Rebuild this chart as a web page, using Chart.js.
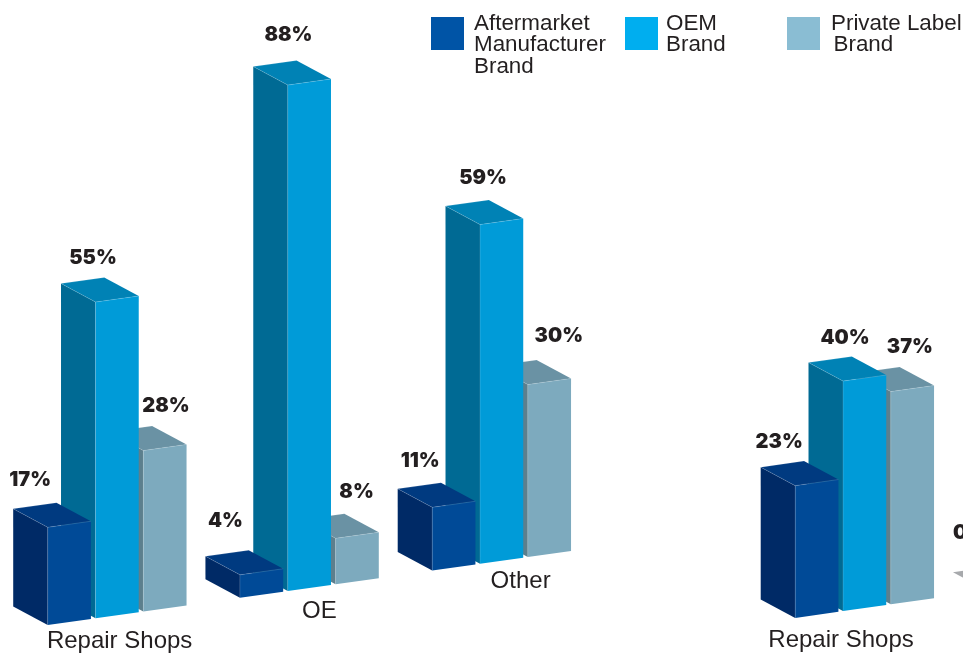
<!DOCTYPE html>
<html>
<head>
<meta charset="utf-8">
<title>Brand share by outlet</title>
<script src="https://cdn.jsdelivr.net/npm/chart.js@4/dist/chart.umd.js"></script>
<style>
html,body{margin:0;padding:0;background:#fff;width:963px;height:656px;overflow:hidden}
#stage{position:relative;width:963px;height:656px;overflow:hidden}
#left{position:absolute;left:0;top:0}
#rightClip{position:absolute;left:700px;top:0;width:263px;height:656px;overflow:hidden}
#right{position:absolute;left:0;top:0}
</style>
</head>
<body>
<div id="stage">
<canvas id="left" width="963" height="656"></canvas>
<div id="rightClip"><canvas id="right" width="500" height="656"></canvas></div>
</div>
<script>
// ---- data ----
const seriesNames = ['Aftermarket Manufacturer Brand', 'OEM Brand', 'Private Label Brand'];
const categoriesLeft = ['Repair Shops', 'OE', 'Other'];
const aftermarketLeft = [17, 4, 11];
const oemLeft = [55, 88, 59];
const privateLeft = [28, 8, 30];
const categoriesRight = ['Repair Shops', ''];
const aftermarketRight = [23, 0];
const oemRight = [40, null];
const privateRight = [37, null];

// ---- legend text and style ----
const legendLines = [['Aftermarket', 'Manufacturer', 'Brand'], ['OEM', 'Brand'], ['Private Label', 'Brand']];
const legendColors = ['#0054a6', '#00aeef', '#8abdd3'];
const legendBoxX = [431, 625, 787];
const legendTextX = [[474, 474, 474], [666, 666], [831, 833.5]];
const frontColors = ['#004a97', '#009bd8', '#7daabe'];
const sideColors = ['#002a66', '#006a94', '#5c7f8d'];
const topColors = ['#003a80', '#0082b5', '#6a92a4'];
const zeroTopColor = '#a7a9ac';
const inkColor = '#231f20';

// ---- 3D projection ----
const depthX = -34.5, depthY = -18.5, slope = 0.1417;

// label nudges relative to the front-left top corner of each bar
const valueNudgeLeft = [
  [[-17.5, -47], [-14.5, -54], [-12, -46]],
  [[-2.5, -43.6], [0.7, -50.5], [3, -47]],
  [[22.7, -45], [21, -46], [31, -49]]
];
const valueNudgeRight = [
  [[-16, -43.7], [-17, -58]],
  [[2, -43], [0, 0]],
  [[19, -45], [0, 0]]
];

function poly(ctx, pts, fill) {
  ctx.beginPath();
  pts.forEach((p, i) => i ? ctx.lineTo(p[0], p[1]) : ctx.moveTo(p[0], p[1]));
  ctx.closePath();
  ctx.fillStyle = fill;
  ctx.fill();
}
function seg(ctx, a, b) {
  ctx.beginPath();
  ctx.moveTo(a[0], a[1]);
  ctx.lineTo(b[0], b[1]);
  ctx.stroke();
}

const bars3d = {
  id: 'bars3d',
  beforeDatasetDraw(chart, args, opts) {
    const ctx = chart.ctx, d = args.index;
    args.meta.data.forEach((el, i) => {
      if (chart.data.datasets[d].data[i] === null) return;
      const p = el.getProps(['x', 'y', 'base', 'width'], true);
      const xl = p.x - p.width / 2, xr = p.x + p.width / 2;
      const sk = x => -slope * (x - opts.refX);
      const fl = [xl, p.y + sk(xl)], fr = [xr, p.y + sk(xr)];
      const bl = [xl, p.base + sk(xl)], br = [xr, p.base + sk(xr)];
      const back = q => [q[0] + depthX, q[1] + depthY];
      const zero = p.y === p.base;
      ctx.save();
      if (zero) {
        poly(ctx, [fl, fr, back(fr), back(fl)], zeroTopColor);
      } else {
        poly(ctx, [bl, fl, back(fl), back(bl)], sideColors[d]);
        poly(ctx, [fl, fr, back(fr), back(fl)], topColors[d]);
        poly(ctx, [bl, br, fr, fl], frontColors[d]);
        ctx.strokeStyle = 'rgba(255,255,255,0.2)';
        ctx.lineWidth = 0.7;
        seg(ctx, fl, bl);
        seg(ctx, fl, fr);
        seg(ctx, fl, back(fl));
        seg(ctx, back(fl), back(fr));
      }
      ctx.restore();
    });
    return false;
  },
  afterDatasetsDraw(chart, args, opts) {
    const ctx = chart.ctx;
    ctx.save();
    ctx.font = '900 20px Inter, Roboto, "Liberation Sans", sans-serif';
    ctx.fillStyle = inkColor;
    ctx.textAlign = 'center';
    ctx.textBaseline = 'middle';
    chart.data.datasets.forEach((ds, d) => {
      chart.getDatasetMeta(d).data.forEach((el, i) => {
        if (ds.data[i] === null) return;
        const p = el.getProps(['x', 'y', 'width'], true);
        const xl = p.x - p.width / 2;
        const n = opts.nudge[d][i];
        ctx.fillText(ds.data[i] + '%', xl + n[0], p.y - slope * (xl - opts.refX) + n[1]);
      });
    });
    ctx.restore();
  },
  afterUpdate(chart, args, opts) {
    const scale = chart.scales.x;
    scale._computeLabelArea = () => undefined; // labels follow the slope above the axis box
    scale.getLabelItems().forEach((it, i) => {
      const t = it.options.translation;
      const n = opts.tickNudge[i] || [0, 0];
      const x = t[0] + n[0];
      it.options.translation = [x, t[1] + n[1] - slope * (x - opts.refX)];
    });
  }
};

const legend3d = {
  id: 'legend3d',
  afterDraw(chart) {
    const ctx = chart.ctx;
    ctx.save();
    ctx.font = '22.4px "Liberation Sans", Arial, sans-serif';
    ctx.textAlign = 'left';
    ctx.textBaseline = 'alphabetic';
    legendLines.forEach((lines, s) => {
      ctx.fillStyle = legendColors[s];
      ctx.fillRect(legendBoxX[s], 17, 33, 33);
      ctx.fillStyle = inkColor;
      lines.forEach((txt, l) => ctx.fillText(txt, legendTextX[s][l], 30 + l * 21.4));
    });
    ctx.restore();
  }
};

function makeChart(id, cats, a, b, c, conf) {
  return new Chart(document.getElementById(id), {
    type: 'bar',
    data: {
      labels: cats,
      datasets: [a, b, c].map((vals, i) => ({
        label: seriesNames[i],
        data: vals,
        backgroundColor: frontColors[i],
        categoryPercentage: 0.746,
        barPercentage: 0.904
      }))
    },
    options: {
      responsive: false,
      animation: false,
      events: [],
      layout: { padding: conf.padding },
      plugins: {
        legend: { display: false },
        tooltip: { enabled: false },
        bars3d: { refX: conf.refX, nudge: conf.nudge, tickNudge: conf.tickNudge }
      },
      scales: {
        x: {
          grid: { display: false },
          border: { display: false },
          ticks: {
            color: inkColor,
            autoSkip: false,
            maxRotation: 0,
            padding: 4,
            font: { family: '"Liberation Sans", Arial, sans-serif', size: 24 }
          },
          afterFit(s) { s.height = conf.axisHeight; }
        },
        y: { display: false, min: 0, max: 100 }
      }
    },
    plugins: conf.plugins
  });
}

makeChart('left', categoriesLeft, aftermarketLeft, oemLeft, privateLeft, {
  padding: { top: 40, left: 21, right: 365.25, bottom: 0 },
  axisHeight: 41,
  refX: 119,
  nudge: valueNudgeLeft,
  tickNudge: [[2.5, 0], [10, -2], [19, -3]],
  plugins: [bars3d, legend3d]
});
makeChart('right', categoriesRight, aftermarketRight, oemRight, privateRight, {
  padding: { top: 36.4, left: 68.5, right: 47, bottom: 0 },
  axisHeight: 44.6,
  refX: 141,
  nudge: valueNudgeRight,
  tickNudge: [[-23.6, 3], [0, 0]],
  plugins: [bars3d]
});
</script>
</body>
</html>
